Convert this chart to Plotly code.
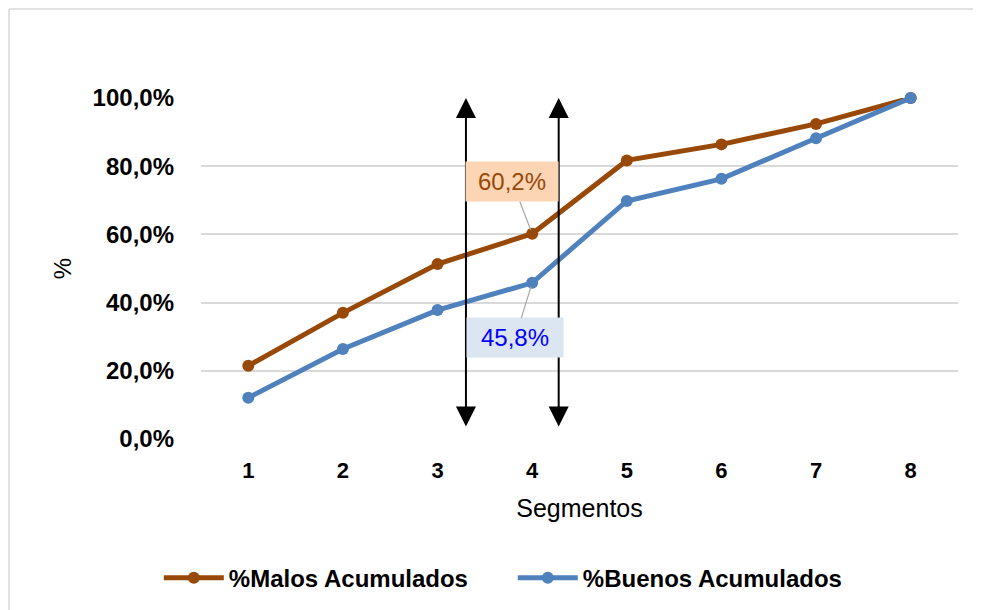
import plotly.graph_objects as go

segmentos = [1, 2, 3, 4, 5, 6, 7, 8]
malos_acum = [0.215, 0.370, 0.513, 0.602, 0.817, 0.864, 0.924, 1.000]
buenos_acum = [0.121, 0.264, 0.378, 0.458, 0.698, 0.763, 0.882, 1.000]
y_ticks = [0.0, 0.2, 0.4, 0.6, 0.8, 1.0]
y_tick_labels = ["0,0%", "20,0%", "40,0%", "60,0%", "80,0%", "100,0%"]
highlight_segment = 4
arrow_positions = [3.3, 4.28]

MALOS_COLOR = "#984807"
BUENOS_COLOR = "#4F81BD"


def pct(v):
    return f"{v*100:.1f}%".replace(".", ",")


fig = go.Figure()
fig.add_trace(go.Scatter(
    x=segmentos, y=malos_acum, mode="lines+markers", name="%Malos Acumulados",
    line=dict(color=MALOS_COLOR, width=5), marker=dict(size=12, color=MALOS_COLOR),
    cliponaxis=False))
fig.add_trace(go.Scatter(
    x=segmentos, y=buenos_acum, mode="lines+markers", name="%Buenos Acumulados",
    line=dict(color=BUENOS_COLOR, width=5), marker=dict(size=12, color=BUENOS_COLOR),
    cliponaxis=False))

idx = segmentos.index(highlight_segment)
annotations = []
# double-headed vertical arrows
for xa in arrow_positions:
    annotations.append(dict(
        x=xa, y=1.0, ax=xa, ay=0.032, xref="x", yref="y", axref="x", ayref="y",
        text="", showarrow=True, arrowhead=2, arrowside="end+start",
        arrowsize=2, arrowwidth=2, arrowcolor="black", standoff=0, startstandoff=0))
# data labels
annotations.append(dict(
    x=highlight_segment, y=malos_acum[idx], xref="x", yref="y",
    text=pct(malos_acum[idx]), showarrow=True, arrowhead=0, arrowwidth=1.2,
    arrowcolor="#A6A6A6", ax=-20, ay=-52, standoff=4,
    bgcolor="#FCD5B5", width=90, height=37,
    font=dict(family="Liberation Sans, Arial", size=24, color=MALOS_COLOR)))
annotations.append(dict(
    x=highlight_segment, y=buenos_acum[idx], xref="x", yref="y",
    text=pct(buenos_acum[idx]), showarrow=True, arrowhead=0, arrowwidth=1.2,
    arrowcolor="#A6A6A6", ax=-17, ay=55, standoff=4,
    bgcolor="#DCE6F2", width=94, height=37,
    font=dict(family="Liberation Sans, Arial", size=24, color="#0000FF")))

# page has an 8px body margin: the figure div starts at (8, 8)
fig.update_layout(
    width=973, height=602,
    margin=dict(l=193, r=23, t=90, b=171),
    paper_bgcolor="white", plot_bgcolor="white",
    font=dict(family="Liberation Sans, Arial", color="black"),
    showlegend=True,
    legend=dict(orientation="h", xref="container", yref="container",
                x=0.155, y=0.053, xanchor="left", yanchor="middle",
                font=dict(family="Liberation Sans, Arial", size=24, color="black",
                          weight="bold"),
                entrywidth=279, entrywidthmode="pixels",
                itemwidth=60),
    annotations=annotations,
    shapes=[
        dict(type="line", xref="paper", yref="paper", x0=-0.2536, x1=1.1, y0=1.261, y1=1.261,
             line=dict(color="#D9D9D9", width=1.5)),
        dict(type="line", xref="paper", yref="paper", x0=-0.2536, x1=-0.2536, y0=1.261, y1=-0.6,
             line=dict(color="#D9D9D9", width=1.5)),
    ],
)
fig.update_xaxes(
    range=[0.5, 8.5], tickmode="array", tickvals=segmentos,
    ticktext=[str(s) for s in segmentos],
    tickfont=dict(size=22, weight="bold", color="black"),
    showgrid=False, zeroline=False, showline=False, ticks="",
    ticklabelstandoff=16,
    title=dict(text="Segmentos", font=dict(size=25, color="black"), standoff=17))
fig.update_yaxes(
    range=[0, 1.0], tickmode="array", tickvals=y_ticks, ticktext=y_tick_labels,
    tickfont=dict(size=24, weight="bold", color="black"),
    showgrid=True, gridcolor="#D9D9D9", gridwidth=1.5, zeroline=False,
    showline=False, ticks="", ticklabelstandoff=26,
    title=dict(text="%", font=dict(size=24, color="black"), standoff=14))

fig.write_html("out.html")
